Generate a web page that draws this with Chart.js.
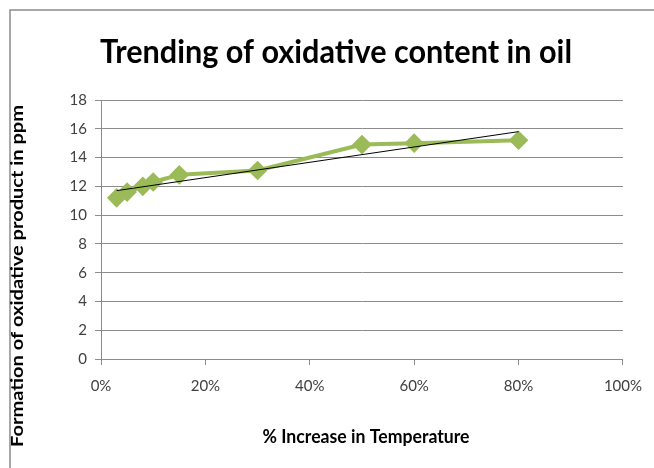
<!DOCTYPE html>
<html><head><meta charset="utf-8">
<script src="https://cdn.jsdelivr.net/npm/chart.js@4"></script>
<style>html,body{margin:0;padding:0;background:#fff}</style>
</head><body>
<canvas id="c" width="654" height="468" style="display:block;width:654px;height:468px"></canvas>
<script>
const chartTitle = 'Trending of oxidative content in oil';
const xTitle = '% Increase in Temperature';
const yTitle = 'Formation of oxidative product in ppm';
const increasePct = [3, 5, 8, 10, 15, 30, 50, 60, 80];
const oxidativePpm = [11.2, 11.6, 12.0, 12.3, 12.8, 13.1, 14.9, 15.0, 15.2];
const trendX = [3, 80];
const trendY = [11.7, 15.8];
const xTicks = [0, 20, 40, 60, 80, 100];
const yTicks = [0, 2, 4, 6, 8, 10, 12, 14, 16, 18];

const FONT = 'Lato';
function drawFitted(ctx, text, size, target, x, y, rot) {
  ctx.save();
  ctx.font = 'bold ' + size + 'px ' + FONT;
  const w = ctx.measureText(text).width;
  ctx.translate(x, y);
  if (rot) ctx.rotate(rot);
  ctx.scale(target / w, 1);
  ctx.fillText(text, 0, 0);
  ctx.restore();
}
const decor = {
  id: 'decor',
  afterDraw(chart) {
    const ctx = chart.ctx;
    ctx.save();
    ctx.strokeStyle = '#8c8c8c';
    ctx.lineWidth = 1.5;
    ctx.beginPath();
    ctx.moveTo(10, 468); ctx.lineTo(10, 10); ctx.lineTo(654, 10);
    ctx.stroke();
    ctx.fillStyle = '#000';
    ctx.textAlign = 'center';
    ctx.textBaseline = 'middle';
    drawFitted(ctx, chartTitle, 33, 472, 336, 52, 0);
    drawFitted(ctx, xTitle, 18, 207, 366, 437, 0);
    drawFitted(ctx, yTitle, 17, 342, 18, 276, -Math.PI / 2);
    ctx.restore();
  }
};

new Chart(document.getElementById('c'), {
  type: 'scatter',
  data: {
    datasets: [{
      data: increasePct.map((x, i) => ({x, y: oxidativePpm[i]})),
      showLine: true,
      borderColor: '#9BBB59',
      backgroundColor: '#9BBB59',
      borderWidth: 4,
      pointStyle: 'rectRot',
      pointRadius: 7,
      pointHoverRadius: 7,
      order: 2
    }, {
      data: trendX.map((x, i) => ({x, y: trendY[i]})),
      showLine: true,
      borderColor: '#000',
      borderWidth: 1,
      pointRadius: 0,
      order: 1
    }]
  },
  options: {
    responsive: false,
    animation: false,
    layout: {padding: {top: 100, right: 29, left: 0, bottom: 0}},
    plugins: {legend: {display: false}, tooltip: {enabled: false}, title: {display: false}},
    scales: {
      x: {
        type: 'linear', min: 0, max: 100,
        afterBuildTicks: s => { s.ticks = xTicks.map(v => ({value: v})); },
        afterFit: s => { s.height = 109; },
        ticks: {callback: v => v + '%', color: '#404040', font: {family: FONT, size: 15}, padding: 12, maxRotation: 0},
        grid: {drawOnChartArea: false, color: '#8c8c8c', tickLength: 6},
        border: {color: '#8c8c8c', width: 1}
      },
      y: {
        min: 0, max: 18,
        afterBuildTicks: s => { s.ticks = yTicks.map(v => ({value: v})); },
        afterFit: s => { s.width = 101; },
        ticks: {color: '#404040', font: {family: FONT, size: 15}, padding: 8},
        grid: {color: '#8c8c8c', tickLength: 6},
        border: {color: '#8c8c8c', width: 1}
      }
    }
  },
  plugins: [decor]
});
</script>
</body></html>
